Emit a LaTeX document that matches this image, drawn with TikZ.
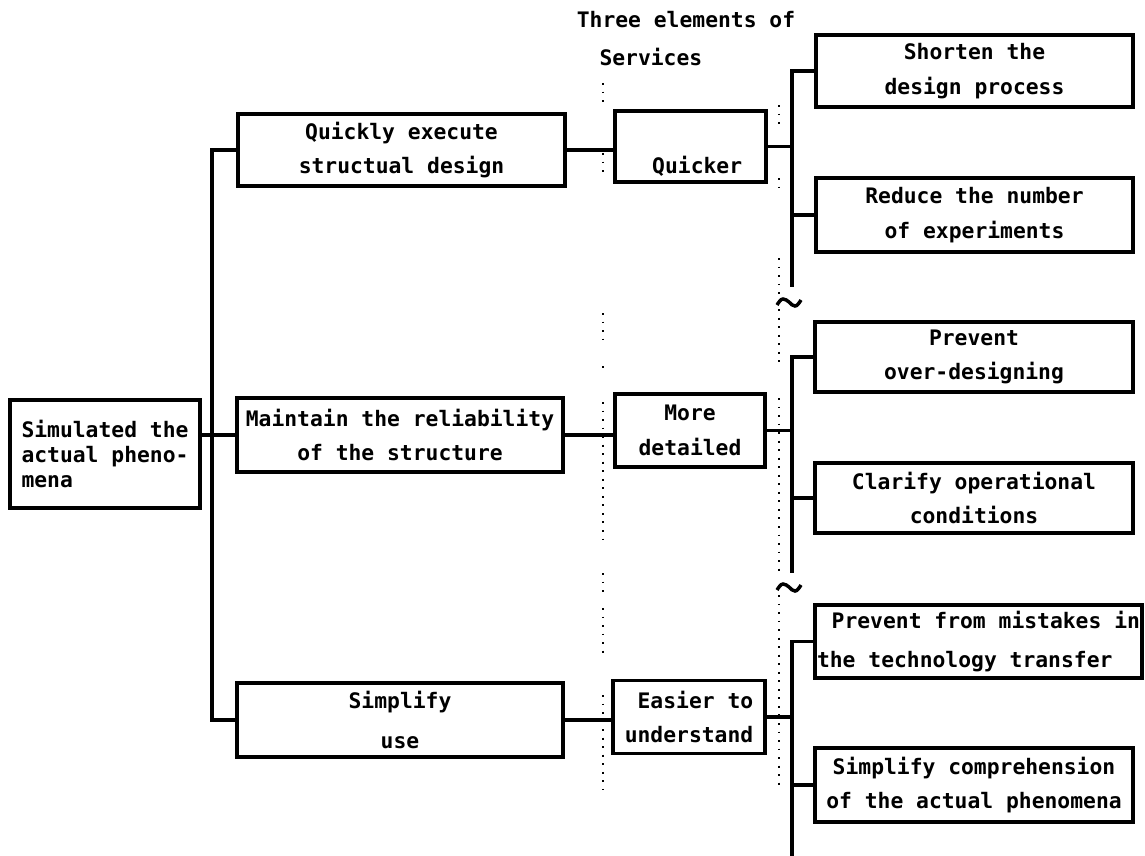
\documentclass[tikz,border=0pt]{standalone}
\usepackage{fontspec}
\newfontfamily\dmono{DejaVu Sans Mono}
\begin{document}
\begin{tikzpicture}[x=0.75pt,y=-0.75pt,
  lsk/.style={font=\dmono\bfseries\fontsize{16pt}{#1}\selectfont},
  box/.style={draw, line width=2.3pt, inner sep=0pt, align=center, lsk=26pt},
  conn/.style={line width=2.3pt},
  dots/.style={line width=1.4pt, dash pattern=on 1.4pt off 5pt},
  tilde/.style={line width=2.6pt}]
\useasboundingbox (0,0) rectangle (1145,856);

% title
\node[lsk=28.5pt, align=left, inner sep=0pt] (title) at (686,39)
  {Three elements of\\\hspace*{17pt}Services};

% level 1
\node[box, align=left, lsk=19pt, minimum width=142.5pt, minimum height=81pt] (L) at (105,454)
  {Simulated the\\actual pheno-\\mena};

% level 2
\node[box, minimum width=245.25pt, minimum height=54pt] (Q1) at (401.5,150)
  {Quickly execute\\structual design};
\node[box, minimum width=244.5pt, minimum height=55.5pt] (M1) at (400,435)
  {Maintain the reliability\\of the structure};
\node[box, lsk=30pt, minimum width=244.5pt, minimum height=55.5pt] (S1) at (400,720)
  {Simplify\\use};

% level 3 (three elements)
\node[box, minimum width=113.25pt, minimum height=53.25pt, text height=46.5pt, text depth=6.75pt] (Qk) at (690.5,146.5)
  {\hspace*{10pt}Quicker};
\node[box, minimum width=112.5pt, minimum height=54.75pt] (MD) at (690,430.5)
  {More\\detailed};
\node[box, align=right, minimum width=114pt, minimum height=54.75pt] (EU) at (689,717)
  {Easier to\\understand};

% level 4
\node[box, minimum width=237.75pt, minimum height=54pt] (Sh) at (974.5,71)
  {Shorten the\\design process};
\node[box, minimum width=237.75pt, minimum height=55.5pt] (Rd) at (974.5,215)
  {Reduce the number\\of experiments};
\node[box, minimum width=238.5pt, minimum height=52.5pt] (Pv) at (974,357)
  {Prevent\\over-designing};
\node[box, minimum width=238.5pt, minimum height=52.5pt] (Cl) at (974,498)
  {Clarify operational\\conditions};
\node[box, align=left, lsk=29pt, minimum width=245.25pt, minimum height=54.75pt] (PF) at (978.5,641.5)
  {\hspace*{11pt}Prevent from mistakes in\\the technology transfer};
\node[box, minimum width=238.5pt, minimum height=55.5pt] (SC) at (974,785)
  {Simplify comprehension\\of the actual phenomena};

% trunk
\coordinate (tr) at (212,0);
\draw[conn] (L.east |- M1.west) -- (M1.west);
\draw[conn] (Q1.west) -- (Q1.west -| tr) -- (S1.west -| tr) -- (S1.west);
\draw[conn] (Q1.east) -- (Q1.east -| Qk.west);
\draw[conn] (M1.east) -- (M1.east -| MD.west);
\draw[conn] (S1.east) -- (S1.east -| EU.west);

% branches
\coordinate (b) at (792,0);
\coordinate (e1) at (792,287);
\coordinate (e2) at (792,573);
\coordinate (e3) at (792,856);
\draw[conn] (Qk.east) -- (Qk.east -| b);
\draw[conn] (Sh.west) -- (Sh.west -| b) -- (e1);
\draw[conn] (Rd.west) -- (Rd.west -| b);
\draw[conn] (MD.east) -- (MD.east -| b);
\draw[conn] (Pv.west) -- (Pv.west -| b) -- (e2);
\draw[conn] (Cl.west) -- (Cl.west -| b);
\draw[conn] (EU.east) -- (EU.east -| b);
\draw[conn] (PF.west) -- (PF.west -| b) -- (e3);
\draw[conn] (SC.west) -- (SC.west -| b);

% tildes
\draw[tilde] (777,305) sin (783,299) cos (789,302) sin (795,306) cos (801,300);
\draw[tilde] (777,590) sin (783,584) cos (789,587) sin (795,591) cos (801,585);

% dotted guide lines
\foreach \a/\b in {83/105,153/172,313/345,366/370,402/545,573/592,608/656,695/790}
  \draw[dots] (603,\a) -- (603,\b);
\foreach \a/\b in {105/130,178/192,258/367,398/575,595/790}
  \draw[dots] (779,\a) -- (779,\b);
\end{tikzpicture}
\end{document}
